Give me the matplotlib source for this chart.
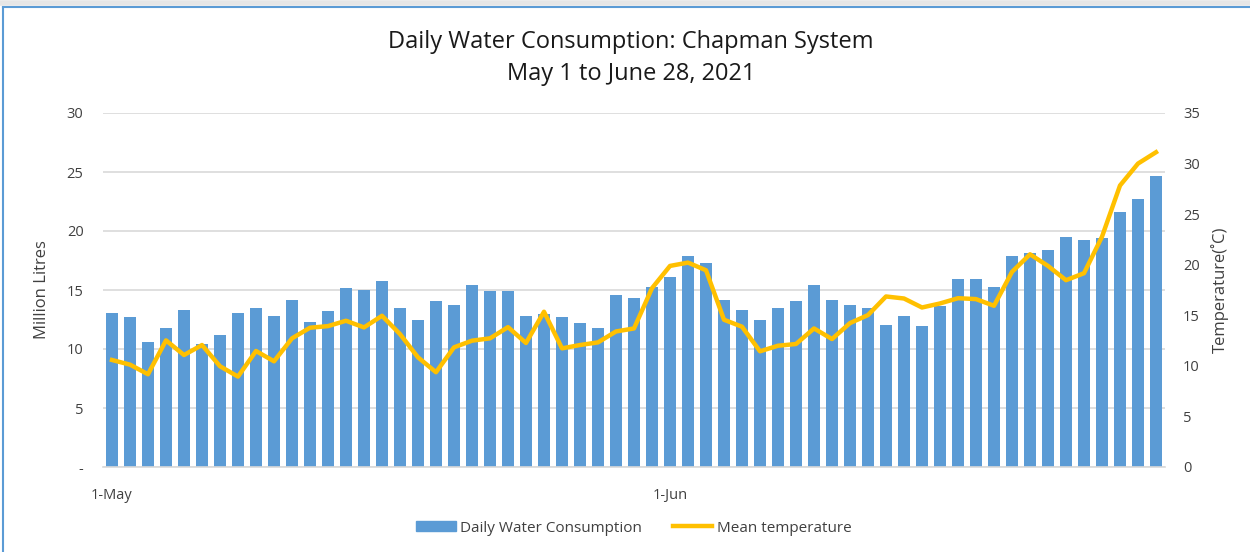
import matplotlib
matplotlib.use("Agg")
import matplotlib.pyplot as plt
from matplotlib.lines import Line2D
from matplotlib.patches import Patch
import numpy as np

plt.rcParams['font.family'] = ['Open Sans', 'DejaVu Sans']

consumption = [13.04, 12.68, 10.56, 11.8, 13.3, 10.45, 11.18, 13.04, 13.44, 12.82,
               14.17, 12.31, 13.18, 15.15, 15.01, 15.77, 13.44, 12.42, 14.06, 13.77,
               15.41, 14.9, 14.9, 12.82, 12.93, 12.68, 12.17, 11.8, 14.54, 14.28,
               15.27, 16.14, 17.92, 17.27, 14.17, 13.3, 12.42, 13.44, 14.06, 15.41,
               14.17, 13.69, 13.44, 12.06, 12.79, 11.92, 13.66, 15.89, 15.89, 15.27,
               17.89, 18.14, 18.39, 19.52, 19.27, 19.38, 21.6, 22.73, 24.7]
temperature = [10.58, 10.12, 9.17, 12.52, 11.07, 12.06, 9.96, 8.94, 11.47, 10.45,
               12.72, 13.77, 13.93, 14.46, 13.8, 14.95, 13.14, 10.84, 9.37, 11.83,
               12.49, 12.72, 13.83, 12.26, 15.35, 11.73, 12.06, 12.32, 13.4, 13.7,
               17.68, 19.88, 20.21, 19.45, 14.56, 13.87, 11.44, 11.99, 12.16, 13.7,
               12.65, 14.23, 15.02, 16.86, 16.66, 15.77, 16.17, 16.69, 16.6, 15.94,
               19.29, 21.03, 19.88, 18.47, 19.16, 22.77, 27.83, 30.0, 31.12]
tick_days = [0, 31]
tick_labels = ["1-May", "1-Jun"]
left_ticks = [0, 5, 10, 15, 20, 25, 30]
left_tick_labels = ["-", "5", "10", "15", "20", "25", "30"]
right_ticks = [0, 5, 10, 15, 20, 25, 30, 35]

BAR = "#5B9BD5"
LINE = "#FFC000"
GRID = "#D9D9D9"
TXT = "#404040"

fig = plt.figure(figsize=(12.5, 5.52), dpi=100)
ax = fig.add_axes([103/1250, 1-467/552, (1165-103)/1250, (467-113)/552])
x = np.arange(len(consumption))
ax.bar(x, consumption, width=0.72, color=BAR, zorder=2)
ax.set_xlim(-0.5, len(consumption)-0.5)
ax.set_ylim(0, 30)
ax.set_yticks(left_ticks)
ax.set_yticklabels(left_tick_labels)
ax.yaxis.grid(True, color=GRID, linewidth=1.2, zorder=0)
ax.set_axisbelow(True)
for s in ['left', 'right', 'top']:
    ax.spines[s].set_visible(False)
ax.spines['bottom'].set_color(GRID)
ax.spines['bottom'].set_linewidth(1.2)
ax.tick_params(axis='y', length=0, labelsize=10.5, colors=TXT, pad=14)
ax.set_xticks(tick_days)
ax.set_xticklabels(tick_labels)
ax.tick_params(axis='x', length=0, labelsize=10.5, colors=TXT, pad=15)
ax.set_ylabel("Million Litres", fontsize=12, color=TXT, labelpad=12)

ax2 = ax.twinx()
ax2.plot(x, temperature, color=LINE, linewidth=3.2, solid_joinstyle='round', zorder=3)
ax2.set_ylim(0, 35)
ax2.set_yticks(right_ticks)
for s in ['left', 'right', 'top', 'bottom']:
    ax2.spines[s].set_visible(False)
ax2.tick_params(axis='y', length=0, labelsize=10.5, colors=TXT, pad=13)
ax2.set_ylabel("Temperature(˚C)", fontsize=12, color=TXT, labelpad=8)

fig.text(0.505, 1-42/552, "Daily Water Consumption: Chapman System", ha='center', va='center',
         fontsize=17, color='#1a1a1a')
fig.text(0.505, 1-74/552, "May 1 to June 28, 2021", ha='center', va='center',
         fontsize=17, color='#1a1a1a')

handles = [Patch(facecolor=BAR, edgecolor=BAR), Line2D([0], [0], color=LINE, linewidth=3.2)]
fig.legend(handles, ["Daily Water Consumption", "Mean temperature"], loc='center',
           bbox_to_anchor=(0.507, 1-528/552), ncol=2, frameon=False, fontsize=11,
           handlelength=2.6, handleheight=0.6, columnspacing=2.0, handletextpad=0.3,
           labelcolor=TXT)

# frame border
fig.add_artist(Line2D([3/1250, 3/1250], [0, 1-7/552], color="#5B9BD5", linewidth=1.5,
                      transform=fig.transFigure))
fig.add_artist(Line2D([3/1250, 1], [1-7/552, 1-7/552], color="#5B9BD5", linewidth=1.5,
                      transform=fig.transFigure))
fig.add_artist(Line2D([0, 1], [1-3/552, 1-3/552], color="#E6E6E6", linewidth=4,
                      transform=fig.transFigure))

fig.savefig("out.png", dpi=100)
